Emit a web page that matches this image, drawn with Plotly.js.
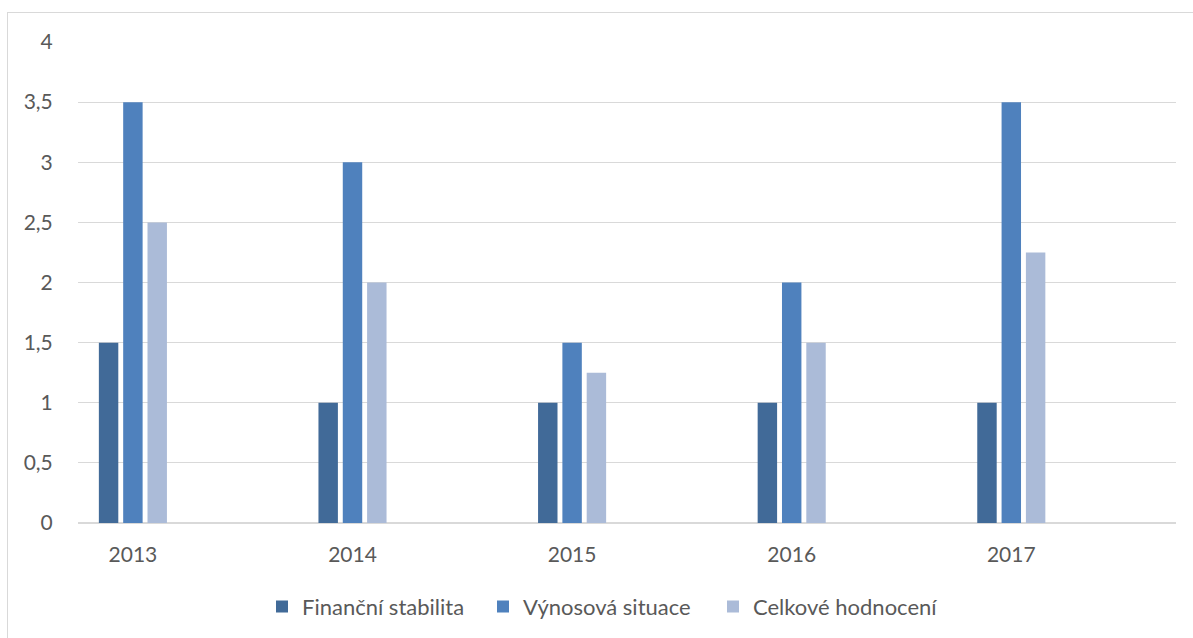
<!DOCTYPE html>
<html>
<head>
<meta charset="utf-8">
<script src="https://cdn.plot.ly/plotly-3.0.1.min.js"></script>
<style>
  html, body { margin: 0; padding: 0; background: #ffffff; }
  #wrap { position: relative; width: 1193px; height: 638px; overflow: hidden; }
  #chart { width: 1193px; height: 638px; }
  #frame { position: absolute; left: 7px; top: 12px; width: 2000px; height: 2000px;
           border-left: 1px solid #d9d9d9; border-top: 1px solid #d9d9d9; pointer-events: none; }
</style>
</head>
<body>
<div id="wrap">
  <div id="chart"></div>
  <div id="frame"></div>
</div>
<script>
// Data
const years = ["2013", "2014", "2015", "2016", "2017"];
const financniStabilita = [1.5, 1, 1, 1, 1];
const vynosovaSituace = [3.5, 3, 1.5, 2, 3.5];
const celkoveHodnoceni = [2.5, 2, 1.25, 1.5, 2.25];
const seriesNames = ["Finanční stabilita", "Výnosová situace", "Celkové hodnocení"];
const seriesColors = ["#416A98", "#4F81BD", "#ABBBD8"];

// Each year occupies two category slots (year + empty slot), as in the source chart
const xPos = years.map((_, i) => i * 2);

const barWidth = 0.177;
const step = 0.2215;
const seriesValues = [financniStabilita, vynosovaSituace, celkoveHodnoceni];
const legendWidths = [176, 185, 186];

const traces = seriesValues.map((vals, k) => ({
  type: 'bar',
  name: seriesNames[k],
  x: xPos,
  y: vals,
  width: barWidth,
  offset: (k - 1) * step - barWidth / 2,
  legendwidth: legendWidths[k],
  marker: { color: seriesColors[k], line: { width: 0 } },
  hoverinfo: 'x+y+name'
}));

const fontFamily = 'Lato, "Open Sans", sans-serif';
const textColor = '#595959';

const layout = {
  width: 1193,
  height: 638,
  margin: { l: 77.5, r: 17.3, t: 41.5, b: 115.3, pad: 0 },
  paper_bgcolor: '#ffffff',
  plot_bgcolor: '#ffffff',
  barmode: 'overlay',
  separators: ', ',
  font: { family: fontFamily, color: textColor },
  showlegend: true,
  legend: {
    orientation: 'h',
    xref: 'container',
    x: 262 / 1193, xanchor: 'left',
    yref: 'container',
    y: (638 - 606.7) / 638, yanchor: 'middle',
    font: { family: fontFamily, size: 22, color: textColor },
    traceorder: 'normal',
    bgcolor: 'rgba(0,0,0,0)'
  },
  xaxis: {
    range: [-0.5, 9.5],
    tickvals: xPos,
    ticktext: years,
    showgrid: false,
    zeroline: false,
    showline: false,
    ticks: 'outside',
    ticklen: 13,
    tickcolor: 'rgba(0,0,0,0)',
    tickfont: { family: fontFamily, size: 21, color: textColor },
    fixedrange: true
  },
  yaxis: {
    range: [0, 4],
    dtick: 0.5,
    tick0: 0,
    showgrid: true,
    gridcolor: '#d9d9d9',
    gridwidth: 1,
    zeroline: true,
    zerolinecolor: '#d9d9d9',
    zerolinewidth: 1.5,
    showline: false,
    ticks: 'outside',
    ticklen: 20,
    tickcolor: 'rgba(0,0,0,0)',
    tickfont: { family: fontFamily, size: 21, color: textColor },
    fixedrange: true
  }
};

Plotly.newPlot('chart', traces, layout, { displayModeBar: false, staticPlot: true });
</script>
</body>
</html>
